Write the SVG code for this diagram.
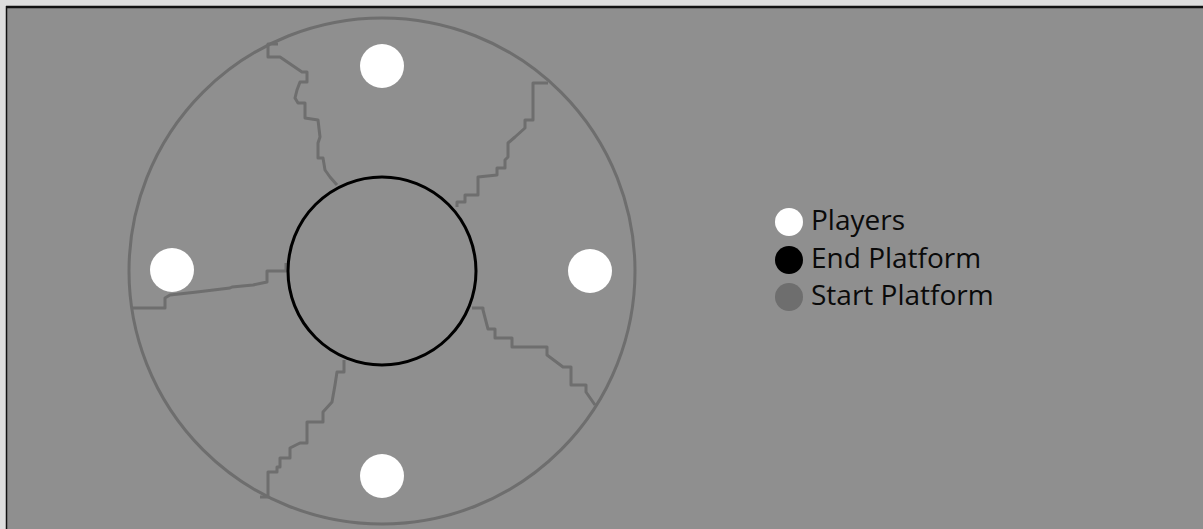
<svg xmlns="http://www.w3.org/2000/svg" width="1203" height="529" viewBox="0 0 1203 529">
<style>
.bd{fill:none;stroke:#6e6e6e;stroke-width:3;stroke-linejoin:round}
.pl{fill:#fff}
.lt{font-family:"Open Sans","Noto Sans",sans-serif;font-size:28px;fill:#0a0a0a}
</style>
<rect x="0" y="0" width="1203" height="529" fill="#dedede"/>
<rect x="7" y="7" width="1196" height="522" fill="#8f8f8f"/>
<line x1="6" y1="7" x2="1203" y2="7" stroke="#111" stroke-width="2.5"/>
<line x1="6.5" y1="6" x2="6.5" y2="529" stroke="#111" stroke-width="1.5"/>
<g id="start-platform">
<circle cx="382" cy="271" r="253" fill="none" stroke="#6e6e6e" stroke-width="3"/>
</g>
<g id="borders">
<path class="bd" d="M278,44 L268,44 L268,57 L280,57 L302,72 L307,72 L307,82 L300,82 L297,90 L295,98 L298,103 L305,103 L305,118 L318,120 L320,137 L318,143 L318,158 L323,158 L325,170 L330,177 L337,185"/>
<path class="bd" d="M548,83 L533,83 L533,120 L525,120 L525,128 L515,137 L508,143 L508,157 L505,160 L505,168 L497,168 L497,175 L478,177 L478,195 L465,195 L465,202 L457,202 L457,207"/>
<path class="bd" d="M132,308 L165,308 L165,298 L170,295 L197,292 L230,288 L232,287 L253,285 L267,282 L267,271 L286,271 L286,263"/>
<path class="bd" d="M472,308 L483,308 L483,310 L488,329 L495,329 L495,338 L512,338 L512,347 L547,347 L547,355 L563,367 L571,367 L571,385 L586,385 L586,392 L595,405"/>
<path class="bd" d="M344,360 L344,372 L337,372 L335,385 L332,402 L323,412 L323,422 L307,422 L307,443 L300,443 L290,448 L290,458 L280,458 L280,467 L277,467 L277,472 L268,472 L268,497 L260,497"/>
</g>
<g id="end-platform">
<circle cx="382" cy="271" r="94" fill="none" stroke="#000" stroke-width="3"/>
</g>
<g id="players">
<circle class="pl" cx="382" cy="66" r="22"/>
<circle class="pl" cx="172" cy="270" r="22"/>
<circle class="pl" cx="590" cy="271" r="22"/>
<circle class="pl" cx="382" cy="476" r="22"/>
</g>
<g id="legend">
<circle cx="789" cy="222" r="14" fill="#fff"/>
<text class="lt" x="811" y="230">Players</text>
<circle cx="789" cy="260" r="14" fill="#000"/>
<text class="lt" x="811" y="268">End Platform</text>
<circle cx="789" cy="297" r="14" fill="#6e6e6e"/>
<text class="lt" x="811" y="305">Start Platform</text>
</g>
</svg>
